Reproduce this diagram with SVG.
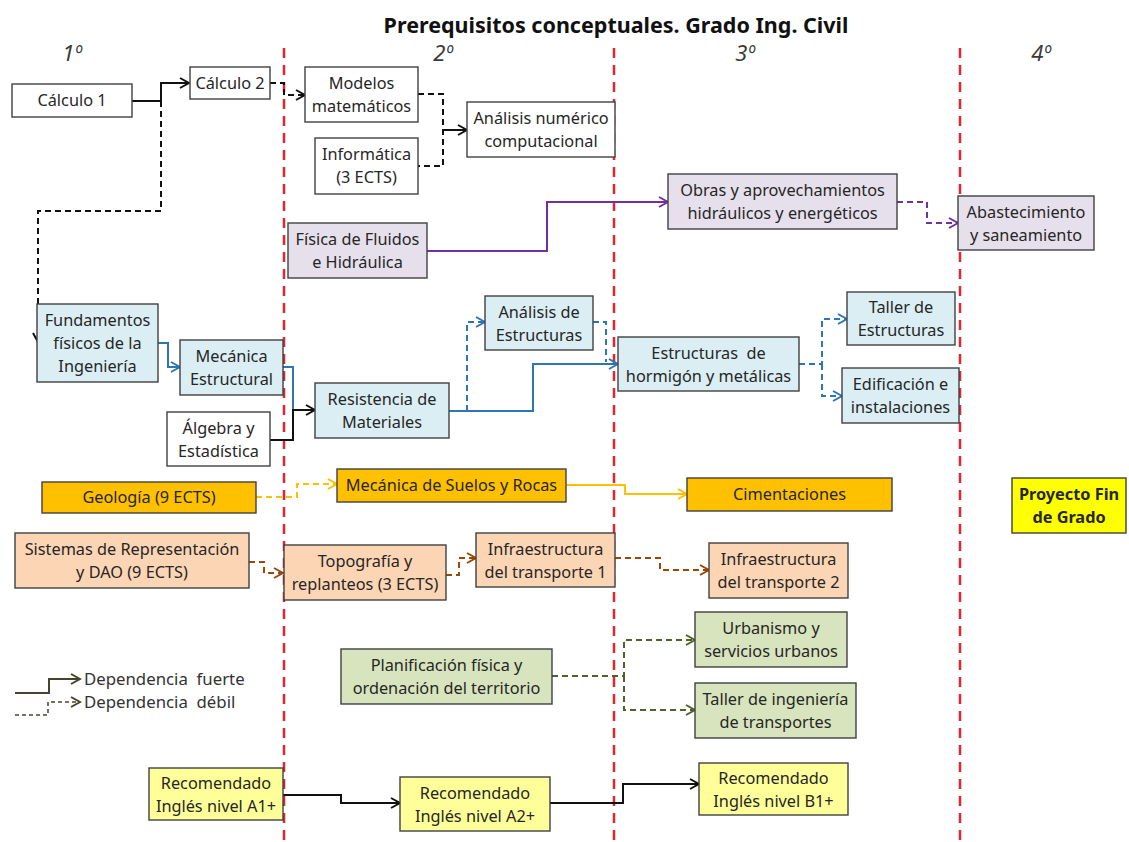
<svg xmlns="http://www.w3.org/2000/svg" width="1129" height="842" viewBox="0 0 1129 842">
<style>
text{font-family:"Noto Sans","Liberation Sans",sans-serif;font-size:16.3px;fill:#262626;text-anchor:middle}
.title{font-size:21.5px;font-weight:bold;fill:#111}
.year{font-size:22px;font-style:italic;fill:#3a3a3a}
.leg{text-anchor:start;font-size:16.8px;fill:#333;white-space:pre}
.pre{white-space:pre}
.b{font-weight:bold}
rect{stroke:#404040;stroke-width:1.4}
.w{fill:#fff}.lb{fill:#dbeef4}.lv{fill:#e6e0ec}.or{fill:#ffc000}.pe{fill:#fcd5b5}.gr{fill:#d7e4bd}.ly{fill:#ffff99}.yy{fill:#ffff00}
.c{fill:none;stroke-width:2}
.d{stroke-dasharray:6 4}
.k{stroke:#111}.bl{stroke:#2e75b6}.pu{stroke:#7030a0}.ye{stroke:#ffc000}.br{stroke:#984807}.ol{stroke:#4f6228}.lg{stroke:#45452d}
.red{stroke:#e0262e;stroke-width:2.5;stroke-dasharray:10 7}
</style>
<defs>
<marker id="ak" markerUnits="userSpaceOnUse" markerWidth="12" markerHeight="12" refX="10" refY="6" orient="auto"><path d="M1,1 L10,6 L1,11" fill="none" stroke="#111" stroke-width="2"/></marker>
<marker id="abl" markerUnits="userSpaceOnUse" markerWidth="12" markerHeight="12" refX="10" refY="6" orient="auto"><path d="M1,1 L10,6 L1,11" fill="none" stroke="#2e75b6" stroke-width="2"/></marker>
<marker id="apu" markerUnits="userSpaceOnUse" markerWidth="12" markerHeight="12" refX="10" refY="6" orient="auto"><path d="M1,1 L10,6 L1,11" fill="none" stroke="#7030a0" stroke-width="2"/></marker>
<marker id="aye" markerUnits="userSpaceOnUse" markerWidth="12" markerHeight="12" refX="10" refY="6" orient="auto"><path d="M1,1 L10,6 L1,11" fill="none" stroke="#ffc000" stroke-width="2"/></marker>
<marker id="abr" markerUnits="userSpaceOnUse" markerWidth="12" markerHeight="12" refX="10" refY="6" orient="auto"><path d="M1,1 L10,6 L1,11" fill="none" stroke="#984807" stroke-width="2"/></marker>
<marker id="aol" markerUnits="userSpaceOnUse" markerWidth="12" markerHeight="12" refX="10" refY="6" orient="auto"><path d="M1,1 L10,6 L1,11" fill="none" stroke="#4f6228" stroke-width="2"/></marker>
<marker id="alg" markerUnits="userSpaceOnUse" markerWidth="12" markerHeight="12" refX="10" refY="6" orient="auto"><path d="M1,1 L10,6 L1,11" fill="none" stroke="#45452d" stroke-width="2"/></marker>
</defs>
<text class="title" x="616" y="33">Prerequisitos conceptuales. Grado Ing. Civil</text>
<g id="years">
<text class="year" x="72" y="61">1º</text>
<text class="year" x="443" y="61">2º</text>
<text class="year" x="745" y="61">3º</text>
<text class="year" x="1041" y="61">4º</text>
</g>
<g id="dividers">
<line class="red" x1="284" y1="48" x2="284" y2="840"/>
<line class="red" x1="614" y1="48" x2="614" y2="840"/>
<line class="red" x1="960" y1="48" x2="960" y2="840"/>
</g>
<g id="connectors">
<path class="c k" d="M132,101 H161 V83 H189" marker-end="url(#ak)"/>
<path class="c k d" d="M161,101 V211 H38 V342" marker-end="url(#ak)"/>
<path class="c k d" d="M270,83 H284 V95 H305" marker-end="url(#ak)"/>
<path class="c k d" d="M418,94 H443 V166 H418"/>
<path class="c k" d="M443,130 H467" marker-end="url(#ak)"/>
<path class="c pu" d="M427,251 H547 V202 H668" marker-end="url(#apu)"/>
<path class="c pu d" d="M897,202 H927 V223 H958" marker-end="url(#apu)"/>
<path class="c bl" d="M158,343 H168 V367 H180" marker-end="url(#abl)"/>
<path class="c bl" d="M283,367 H293 V410"/>
<path class="c k" d="M270,440 H293 V410 H315" marker-end="url(#ak)"/>
<path class="c bl" d="M449,411 H533 V364 H618" marker-end="url(#abl)"/>
<path class="c bl d" d="M467,411 V322 H485" marker-end="url(#abl)"/>
<path class="c bl d" d="M593,322 H606 V362"/>
<path class="c bl d" d="M799,364 H822 V319 H847" marker-end="url(#abl)"/>
<path class="c bl d" d="M822,364 V396 H842" marker-end="url(#abl)"/>
<path class="c ye d" d="M256,497 H297 V484 H337" marker-end="url(#aye)"/>
<path class="c ye" d="M566,485 H625 V494 H687" marker-end="url(#aye)"/>
<path class="c br d" d="M249,562 H264 V573 H283" marker-end="url(#abr)"/>
<path class="c br d" d="M446,575 H459 V558 H476" marker-end="url(#abr)"/>
<path class="c br d" d="M615,558 H660 V570 H709" marker-end="url(#abr)"/>
<path class="c ol d" d="M552,676 H624 V640 H695" marker-end="url(#aol)"/>
<path class="c ol d" d="M624,676 V710 H695" marker-end="url(#aol)"/>
<path class="c k" d="M283,795 H341 V803 H400" marker-end="url(#ak)"/>
<path class="c k" d="M550,803 H623 V784 H699" marker-end="url(#ak)"/>
</g>
<g id="legend">
<path class="c lg" d="M15,693 H49 V679 H80" marker-end="url(#alg)"/>
<path class="c lg" style="stroke-width:1.5;stroke-dasharray:4 3" d="M15,715 H48 V702 H80" marker-end="url(#alg)"/>
<text class="leg" x="84" y="685" xml:space="preserve">Dependencia  fuerte</text>
<text class="leg" x="84" y="708" xml:space="preserve">Dependencia  débil</text>
</g>
<g id="n-calculo1"><rect class="w" x="12" y="84" width="120" height="33"/><text x="72" y="106">Cálculo 1</text></g>
<g id="n-calculo2"><rect class="w" x="190" y="67" width="80" height="32"/><text x="230" y="89">Cálculo 2</text></g>
<g id="n-modelos"><rect class="w" x="305" y="67" width="113" height="55"/><text x="361.5" y="89">Modelos</text><text x="361.5" y="112">matemáticos</text></g>
<g id="n-informatica"><rect class="w" x="315" y="138" width="103" height="56"/><text x="366.5" y="160">Informática</text><text x="366.5" y="183">(3 ECTS)</text></g>
<g id="n-analisis-num"><rect class="w" x="467" y="102" width="148" height="55"/><text x="541" y="124">Análisis numérico</text><text x="541" y="147">computacional</text></g>
<g id="n-fisica-fluidos"><rect class="lv" x="288" y="223" width="139" height="55"/><text x="357.5" y="245">Física de Fluidos</text><text x="357.5" y="268">e Hidráulica</text></g>
<g id="n-obras"><rect class="lv" x="668" y="174" width="229" height="55"/><text x="782.5" y="196">Obras y aprovechamientos</text><text x="782.5" y="219">hidráulicos y energéticos</text></g>
<g id="n-abastecimiento"><rect class="lv" x="958" y="196" width="136" height="54"/><text x="1026" y="218">Abastecimiento</text><text x="1026" y="241">y saneamiento</text></g>
<g id="n-fundamentos"><rect class="lb" x="37" y="304" width="121" height="78"/><text x="97.5" y="326">Fundamentos</text><text x="97.5" y="349">físicos de la</text><text x="97.5" y="372">Ingeniería</text></g>
<g id="n-mecanica-est"><rect class="lb" x="180" y="340" width="103" height="55"/><text x="231.5" y="362">Mecánica</text><text x="231.5" y="385">Estructural</text></g>
<g id="n-algebra"><rect class="w" x="167" y="412" width="103" height="54"/><text x="218.5" y="434">Álgebra y</text><text x="218.5" y="457">Estadística</text></g>
<g id="n-resistencia"><rect class="lb" x="315" y="383" width="134" height="55"/><text x="382" y="405">Resistencia de</text><text x="382" y="428">Materiales</text></g>
<g id="n-analisis-est"><rect class="lb" x="485" y="296" width="108" height="54"/><text x="539" y="318">Análisis de</text><text x="539" y="341">Estructuras</text></g>
<g id="n-estructuras"><rect class="lb" x="618" y="337" width="181" height="54"/><text class="pre" x="708.5" y="359" xml:space="preserve">Estructuras  de</text><text x="708.5" y="382">hormigón y metálicas</text></g>
<g id="n-taller-est"><rect class="lb" x="847" y="292" width="108" height="53"/><text x="901" y="313">Taller de</text><text x="901" y="336">Estructuras</text></g>
<g id="n-edificacion"><rect class="lb" x="842" y="368" width="117" height="55"/><text x="900.5" y="390">Edificación e</text><text x="900.5" y="413">instalaciones</text></g>
<g id="n-geologia"><rect class="or" x="42" y="482" width="214" height="31"/><text x="149" y="503">Geología (9 ECTS)</text></g>
<g id="n-suelos"><rect class="or" x="337" y="469" width="229" height="33"/><text x="451.5" y="491">Mecánica de Suelos y Rocas</text></g>
<g id="n-cimentaciones"><rect class="or" x="687" y="478" width="205" height="33"/><text x="789.5" y="500">Cimentaciones</text></g>
<g id="n-tfg"><rect class="yy" x="1012" y="478" width="114" height="55"/><text class="b" x="1069" y="500">Proyecto Fin</text><text class="b" x="1069" y="523">de Grado</text></g>
<g id="n-sistemas"><rect class="pe" x="15" y="533" width="234" height="55"/><text x="132" y="555">Sistemas de Representación</text><text x="132" y="578">y DAO (9 ECTS)</text></g>
<g id="n-topografia"><rect class="pe" x="284" y="545" width="162" height="55"/><text x="365" y="567">Topografía y</text><text x="365" y="590">replanteos (3 ECTS)</text></g>
<g id="n-infra1"><rect class="pe" x="476" y="533" width="139" height="54"/><text x="545.5" y="555">Infraestructura</text><text x="545.5" y="578">del transporte 1</text></g>
<g id="n-infra2"><rect class="pe" x="709" y="543" width="139" height="55"/><text x="778.5" y="565">Infraestructura</text><text x="778.5" y="588">del transporte 2</text></g>
<g id="n-planificacion"><rect class="gr" x="341" y="649" width="211" height="55"/><text x="446.5" y="671">Planificación física y</text><text x="446.5" y="694">ordenación del territorio</text></g>
<g id="n-urbanismo"><rect class="gr" x="695" y="612" width="152" height="55"/><text x="771" y="634">Urbanismo y</text><text x="771" y="657">servicios urbanos</text></g>
<g id="n-taller-transp"><rect class="gr" x="695" y="683" width="161" height="55"/><text x="775.5" y="705">Taller de ingeniería</text><text x="775.5" y="728">de transportes</text></g>
<g id="n-ingles-a1"><rect class="ly" x="149" y="768" width="134" height="52"/><text x="216" y="789">Recomendado</text><text x="216" y="812">Inglés nivel A1+</text></g>
<g id="n-ingles-a2"><rect class="ly" x="400" y="777" width="150" height="54"/><text x="475" y="799">Recomendado</text><text x="475" y="822">Inglés nivel A2+</text></g>
<g id="n-ingles-b1"><rect class="ly" x="699" y="763" width="149" height="52"/><text x="773.5" y="784">Recomendado</text><text x="773.5" y="807">Inglés nivel B1+</text></g>
</svg>
